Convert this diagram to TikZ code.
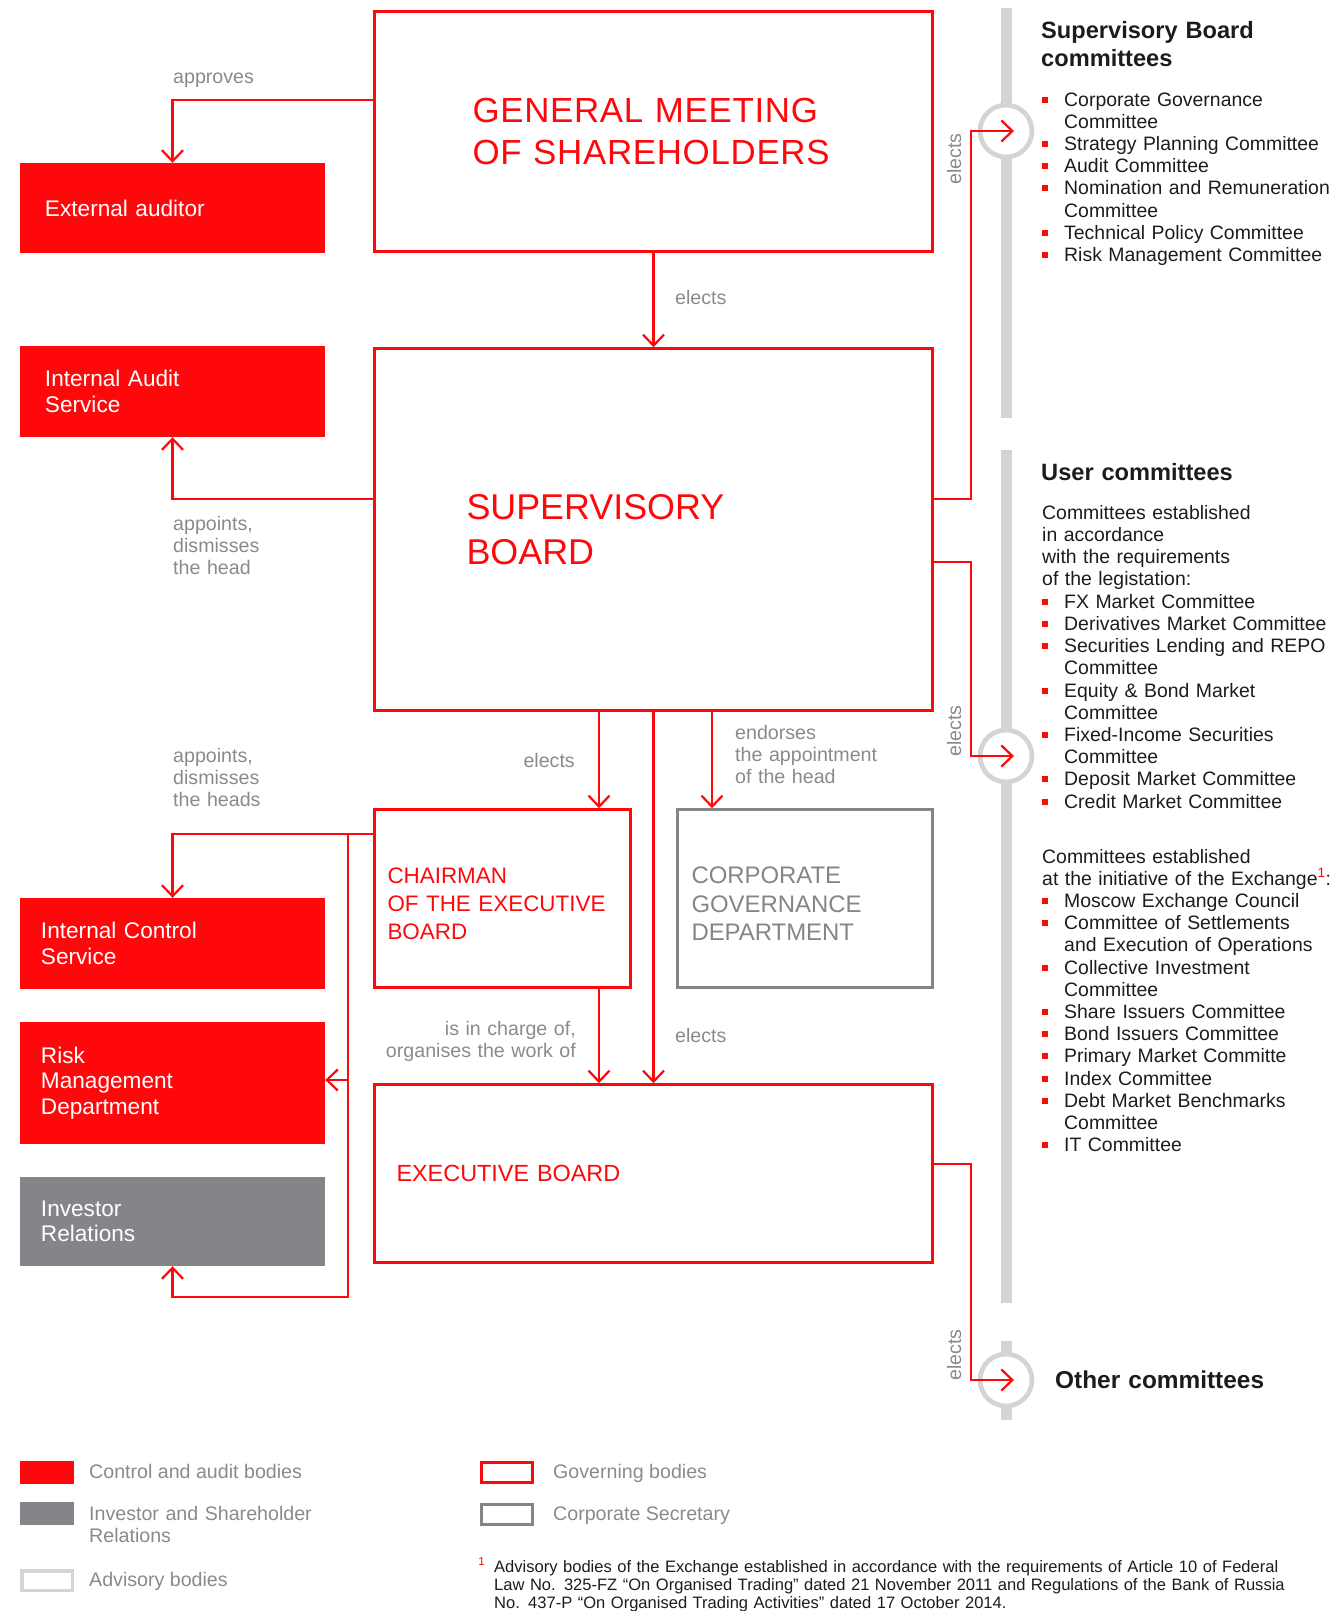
\documentclass[tikz,border=0pt]{standalone}
\usepackage{fontspec}
\setmainfont{Liberation Sans}
\usepackage{tikz}
\usetikzlibrary{positioning,arrows.meta,calc}

\definecolor{mred}{RGB}{255,8,11}
\definecolor{mgray}{RGB}{132,133,137}
\definecolor{tgray}{RGB}{138,138,142}
\definecolor{lgray}{RGB}{211,212,214}
\definecolor{ink}{RGB}{28,28,30}

\newcommand{\bul}{\makebox[22bp][l]{\textcolor{mred}{\rule[3.5bp]{6bp}{6bp}}}}
\newcommand{\cont}{\hspace*{22bp}}
\newcommand{\fnmark}{\textcolor{mred}{\textsuperscript{1}}}

\begin{document}
\begin{tikzpicture}[x=1bp,y=-1bp,>={Straight Barb[length=11bp,width=21bp]},
		redbox/.style={fill=mred,text=white,align=left,inner ysep=0pt,
			font=\fontsize{22.7}{25.5}\selectfont},
		greybox/.style={redbox,fill=mgray},
		govbox/.style={draw=mred,line width=2.6bp,text=mred,align=left,inner ysep=0pt},
		secbox/.style={govbox,draw=mgray,text=mgray},
		conn/.style={draw=mred,line width=2.2bp,->},
		notetxt/.style={text=tgray,inner sep=0pt,align=left,font=\fontsize{19.7}{22.3}\selectfont},
		listtxt/.style={text=ink,inner sep=0pt,align=left,text width=294bp,font=\fontsize{19.5}{22.3}\selectfont},
		headtxt/.style={text=ink,inner sep=0pt,align=left,text width=292bp,font=\fontsize{23.7}{28.4}\selectfont\bfseries},
		hoop/.style={circle,draw=lgray,line width=4.7bp,fill=white,minimum size=52bp,inner sep=0pt},
		rail/.style={draw=lgray,line width=11bp}]
		
		\useasboundingbox (0,0) rectangle (1336,1611);
		
		% Committee rails
		\draw[rail] (1006,8)--(1006,418);
		\draw[rail] (1006,450)--(1006,1303);
		\draw[rail] (1006,1341)--(1006,1420);
		\node[hoop] (c1) at (1006,131) {};
		\node[hoop] (c2) at (1006,756) {};
		\node[hoop] (c3) at (1006,1380) {};
		
		% Governing bodies
		\node[govbox,minimum width=558bp,minimum height=240bp,text width=362bp,inner xsep=98bp,
			font=\fontsize{35}{42.7}\selectfont\addfontfeature{LetterSpace=2}] (gm) at (653.5,131.5)
			{\mbox{GENERAL MEETING}\\\mbox{OF SHAREHOLDERS}};
		\node[govbox,minimum width=558bp,minimum height=362bp,text width=374bp,inner xsep=92bp,
			font=\fontsize{36}{44.5}\selectfont] (sb) at (653.5,529.5) {SUPERVISORY\\BOARD};
		\node[govbox,minimum width=256bp,minimum height=178bp,text width=230bp,inner xsep=13bp,
			font=\fontsize{22.5}{28.3}\selectfont] (chair) at (502.5,898.5)
			{\rule{0pt}{26bp}CHAIRMAN\\\mbox{OF THE EXECUTIVE}\\BOARD};
		\node[secbox,minimum width=255bp,minimum height=178bp,text width=227bp,inner xsep=14bp,
			font=\fontsize{24}{28.6}\selectfont] (cgd) at (805,898.5)
			{\rule{0pt}{27bp}CORPORATE\\GOVERNANCE\\DEPARTMENT};
		\node[govbox,minimum width=558bp,minimum height=178bp,text width=514bp,inner xsep=22bp,
			font=\fontsize{23.5}{26}\selectfont] (eb) at (653.5,1173.5) {EXECUTIVE BOARD};
		
		% Control and audit bodies
		\node[redbox,minimum width=305bp,minimum height=90bp,text width=255bp,inner xsep=25bp] (extaud) at (172.5,208) {External auditor};
		\node[redbox,minimum width=305bp,minimum height=91bp,text width=255bp,inner xsep=25bp] (ias) at (172.5,391.5) {Internal Audit\\Service};
		\node[redbox,minimum width=305bp,minimum height=91bp,text width=263bp,inner xsep=21bp] (ics) at (172.5,943.5) {Internal Control\\Service};
		\node[redbox,minimum width=305bp,minimum height=122bp,text width=263bp,inner xsep=21bp] (rmd) at (172.5,1083) {Risk\\Management\\Department};
		\node[greybox,minimum width=305bp,minimum height=89bp,text width=263bp,inner xsep=21bp] (ir) at (172.5,1221.5) {Investor\\Relations};
		
		% Connectors
		\coordinate (ce) at ([xshift=-54.5bp]sb.south);
		\coordinate (en) at ([xshift=58.5bp]sb.south);
		\coordinate (trunk) at (348,834);
		\coordinate (trunkend) at (348,1297);
		\coordinate (rmdin) at ([yshift=3bp]rmd.east);
		
		\draw[conn] ([yshift=31.5bp]gm.west) -| (extaud.north);
		\draw[conn] (gm.south)--(sb.north);
		\draw[conn] ([yshift=30.5bp]sb.west) -| (ias.south);
		\draw[conn] ([yshift=30.5bp]sb.east)--++(37,0) |- ([xshift=8bp]c1.center);
		\draw[conn] ([yshift=-32.5bp]sb.east)--++(37,0) |- ([xshift=8bp]c2.center);
		\draw[conn] ([yshift=9.5bp]eb.east)--++(37,0) |- ([xshift=8bp]c3.center);
		\draw[conn] (ce)--(ce |- chair.north);
		\draw[conn] (ce |- chair.south)--(ce |- eb.north);
		\draw[conn] (sb.south)--(sb.south |- eb.north);
		\draw[conn] (en)--(en |- cgd.north);
		\draw[conn] ([yshift=64.5bp]chair.west) -| (ics.north);
		\draw[conn] (trunk)--(trunkend) -| (ir.south);
		\draw[conn] (trunk |- rmdin)--(rmdin);
		
		% Connector labels
		\node[notetxt,anchor=base west] (l1) at (173,83) {approves};
		\node[notetxt,anchor=base west] (l2) at (675,304) {elects};
		\node[notetxt,anchor=base west,text width=120bp] (l3) at (173,530) {appoints,\\dismisses\\the head};
		\node[notetxt,anchor=base east,align=right,text width=80bp] (l4) at (575,767) {elects};
		\node[notetxt,anchor=base west,text width=160bp] (l5) at (735,739) {endorses\\the appointment\\of the head};
		\node[notetxt,anchor=base west,text width=120bp] (l6) at (173,762) {appoints,\\dismisses\\the heads};
		\node[notetxt,anchor=base east,align=right,text width=220bp] (l7) at (576,1035) {is in charge of,\\organises the work of};
		\node[notetxt,anchor=base west] (l8) at (675,1042) {elects};
		\node[notetxt,rotate=90] (l9) at (954,159) {elects};
		\node[notetxt,rotate=90] (l10) at (954,731) {elects};
		\node[notetxt,rotate=90] (l11) at (954,1355) {elects};
		
		% Committees
		\node[headtxt,anchor=base west] (sbc) at (1041,38.5) {Supervisory Board\\committees};
		\node[listtxt,anchor=base west] (sbl) at (1042,106) {\bul Corporate Governance\\\cont Committee\\\bul Strategy Planning Committee\\\bul Audit Committee\\\bul Nomination and Remuneration\\\cont Committee\\\bul Technical Policy Committee\\\bul Risk Management Committee};
		
		\node[headtxt,anchor=base west] (usr) at (1041,480) {User committees};
		\node[listtxt,anchor=base west] (usl) at (1042,519.3) {Committees established\\in accordance\\with the requirements\\of the legistation:\\\bul FX Market Committee\\\bul Derivatives Market Committee\\\bul Securities Lending and REPO\\\cont Committee\\\bul Equity \& Bond Market\\\cont Committee\\\bul Fixed-Income Securities\\\cont Committee\\\bul Deposit Market Committee\\\bul Credit Market Committee};
		\node[listtxt,anchor=base west] (exl) at (1042,863) {Committees established\\at the initiative of the Exchange\fnmark:\\\bul Moscow Exchange Council\\\bul Committee of Settlements\\\cont and Execution of Operations\\\bul Collective Investment\\\cont Committee\\\bul Share Issuers Committee\\\bul Bond Issuers Committee\\\bul Primary Market Committe\\\bul Index Committee\\\bul Debt Market Benchmarks\\\cont Committee\\\bul IT Committee};
		
		\node[headtxt,anchor=base west,font=\fontsize{24.5}{28}\selectfont\bfseries] (oth) at (1055,1388) {Other committees};
		
		% Legend
		\node[fill=mred,minimum width=54bp,minimum height=23bp,inner sep=0pt] (k1) at (47,1472.5) {};
		\node[fill=mgray,minimum width=54bp,minimum height=23bp,inner sep=0pt] (k2) at (47,1513.5) {};
		\node[draw=lgray,line width=3.5bp,minimum width=50.5bp,minimum height=19.5bp,inner sep=0pt] (k3) at (47,1580.5) {};
		\node[draw=mred,line width=3bp,minimum width=51bp,minimum height=20bp,inner sep=0pt] (k4) at (507,1472.5) {};
		\node[draw=mgray,line width=3bp,minimum width=51bp,minimum height=20bp,inner sep=0pt] (k5) at (507,1514.5) {};
		
		\node[notetxt,anchor=base west] (t1) at (89,1478) {Control and audit bodies};
		\node[notetxt,anchor=base west,text width=300bp] (t2) at (89,1520) {Investor and Shareholder\\Relations};
		\node[notetxt,anchor=base west] (t3) at (89,1586) {Advisory bodies};
		\node[notetxt,anchor=base west] (t4) at (553,1478) {Governing bodies};
		\node[notetxt,anchor=base west] (t5) at (553,1520) {Corporate Secretary};
		
		% Footnote
		\node[text=ink,inner sep=0pt,align=left,text width=842bp,anchor=base west,
			font=\fontsize{16.6}{18.3}\selectfont] (fnote) at (494,1572)
			{\llap{\fnmark\hspace{9bp}}Advisory bodies of the Exchange established in accordance with the requirements of Article 10 of Federal\\Law No. 325-FZ “On Organised Trading” dated 21 November 2011 and Regulations of the Bank of Russia\\No. 437-P “On Organised Trading Activities” dated 17 October 2014.};
		
	\end{tikzpicture}
\end{document}
